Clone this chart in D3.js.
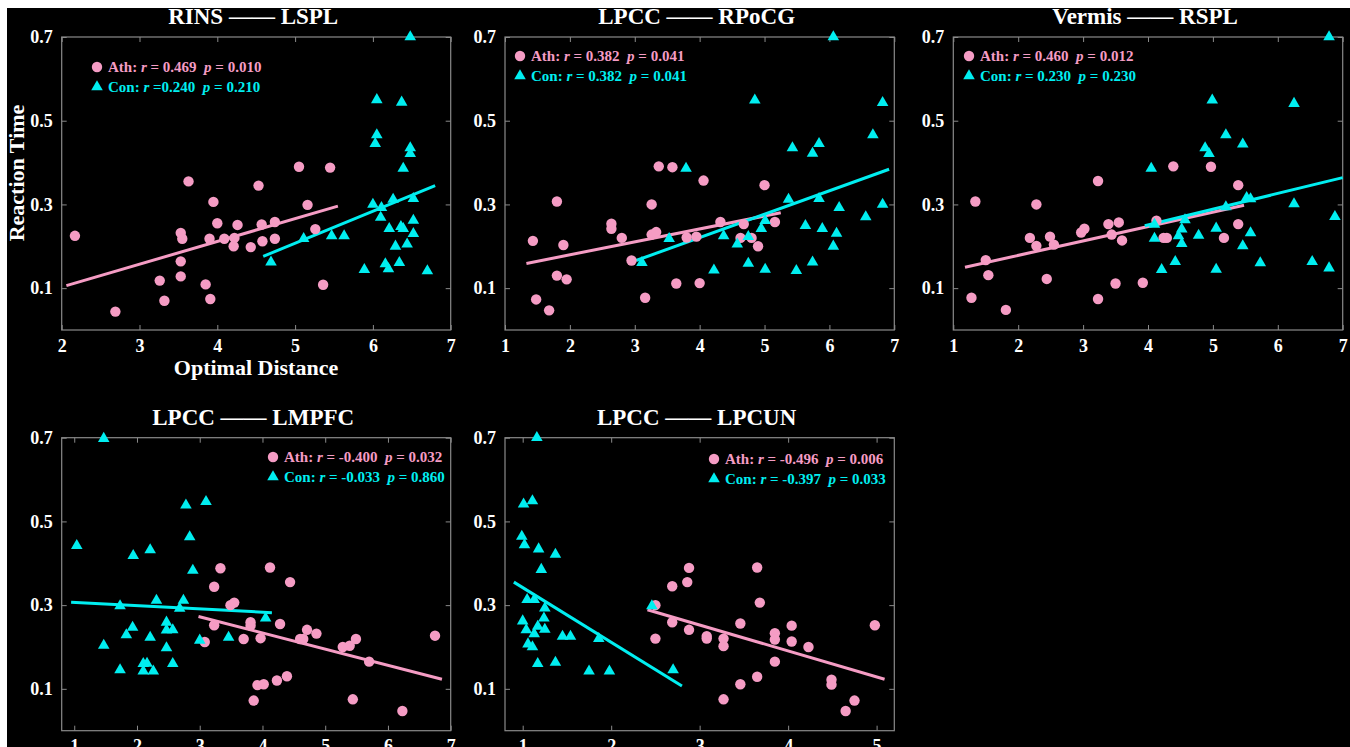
<!DOCTYPE html>
<html>
<head>
<meta charset="utf-8">
<script src="https://cdn.jsdelivr.net/npm/d3@7"></script>
<style>
  body { margin: 0; background: #fff; }
  svg { display: block; }
  text { font-family: "Liberation Serif", "Times New Roman", serif; font-weight: bold; }
</style>
</head>
<body>
<div id="chart"></div>
<script>
// panel titles and legend labels
var titles = ["RINS \u2014\u2014 LSPL", "LPCC \u2014\u2014 RPoCG", "Vermis \u2014\u2014 RSPL",
              "LPCC \u2014\u2014 LMPFC", "LPCC \u2014\u2014 LPCUN"];
var athStats = [["0.469", "0.010"], ["0.382", "0.041"], ["0.460", "0.012"], ["-0.400", "0.032"], ["-0.496", "0.006"]];
var conStats = [["0.240", "0.210"], ["0.382", "0.041"], ["0.230", "0.230"], ["-0.033", "0.860"], ["-0.397", "0.033"]];
var xDomains = [[2, 7], [1, 7], [1, 7], [0.8, 7], [0.8, 5.2]];
var yDomain = [0, 0.7];
var yTicks = [0.1, 0.3, 0.5, 0.7];

// points [optimal distance, reaction time]
var rinsAth = [[2.17,0.225],[2.69,0.044],[3.26,0.118],[3.32,0.070],[3.53,0.232],[3.55,0.218],[3.53,0.164],[3.53,0.128],
  [3.63,0.355],[3.85,0.109],[3.90,0.218],[3.91,0.074],[3.95,0.306],[4.00,0.255],[4.09,0.218],[4.22,0.220],[4.21,0.200],
  [4.26,0.251],[4.43,0.198],[4.53,0.345],[4.57,0.252],[4.58,0.212],[4.74,0.258],[4.74,0.218],[5.05,0.390],[5.16,0.299],
  [5.26,0.241],[5.36,0.108],[5.45,0.388]];
var rinsCon = [[6.48,0.700],[6.05,0.550],[6.37,0.544],[6.05,0.466],[6.03,0.445],[6.48,0.435],[6.48,0.421],[6.39,0.386],
  [6.00,0.300],[6.11,0.292],[6.26,0.312],[6.52,0.314],[6.10,0.269],[6.52,0.262],[6.21,0.242],[6.36,0.247],[6.39,0.242],
  [6.52,0.230],[6.29,0.200],[6.44,0.205],[5.47,0.225],[5.63,0.225],[5.11,0.218],[4.69,0.162],[5.89,0.144],[6.16,0.158],
  [6.20,0.146],[6.34,0.161],[6.70,0.141]];
var rpocgAth = [[1.43,0.213],[1.48,0.073],[1.68,0.047],[1.80,0.307],[1.90,0.203],[1.80,0.130],[1.95,0.121],[2.64,0.254],
  [2.64,0.242],[2.80,0.220],[2.95,0.166],[3.16,0.077],[3.26,0.300],[3.26,0.228],[3.33,0.234],[3.37,0.391],[3.58,0.389],
  [3.64,0.111],[3.80,0.221],[3.95,0.223],[4.00,0.112],[4.06,0.357],[4.32,0.258],[4.68,0.253],[4.63,0.220],[4.80,0.220],
  [4.90,0.200],[5.00,0.346],[5.16,0.258]];
var rpocgCon = [[6.06,0.700],[4.85,0.549],[6.82,0.543],[6.67,0.466],[5.43,0.435],[5.84,0.445],[5.74,0.422],[3.79,0.386],
  [5.37,0.312],[5.84,0.314],[6.15,0.292],[6.82,0.300],[6.56,0.270],[5.01,0.261],[5.63,0.249],[5.89,0.242],[4.95,0.242],
  [6.11,0.231],[3.53,0.218],[4.37,0.225],[4.75,0.223],[4.58,0.205],[6.06,0.200],[3.11,0.161],[4.22,0.143],[4.75,0.159],
  [5.01,0.145],[5.49,0.142],[5.74,0.162]];
var rsplAth = [[1.28,0.077],[1.34,0.307],[1.50,0.167],[1.54,0.131],[1.81,0.048],[2.18,0.220],[2.28,0.300],[2.28,0.201],
  [2.44,0.122],[2.49,0.223],[2.55,0.204],[2.97,0.233],[3.02,0.242],[3.23,0.356],[3.23,0.074],[3.39,0.253],[3.44,0.228],
  [3.50,0.111],[3.55,0.257],[3.60,0.214],[3.92,0.113],[4.13,0.261],[4.24,0.220],[4.29,0.220],[4.39,0.391],[4.97,0.390],
  [5.17,0.220],[5.39,0.346],[5.39,0.253]];
var rsplCon = [[6.79,0.700],[4.99,0.549],[6.25,0.541],[5.20,0.466],[5.46,0.444],[4.88,0.435],[4.94,0.421],[4.05,0.386],
  [5.52,0.316],[5.58,0.313],[6.25,0.301],[5.20,0.294],[6.88,0.271],[4.57,0.263],[4.10,0.252],[4.52,0.241],[5.05,0.243],
  [4.10,0.219],[4.47,0.225],[4.78,0.226],[5.58,0.232],[4.52,0.206],[5.46,0.201],[4.42,0.163],[5.73,0.160],[6.53,0.163],
  [4.21,0.144],[5.05,0.145],[6.79,0.148]];
var lmpfcAth = [[3.08,0.212],[3.23,0.252],[3.23,0.344],[3.33,0.388],[3.49,0.300],[3.55,0.306],[3.70,0.219],[3.81,0.259],
  [3.81,0.251],[3.97,0.221],[3.86,0.072],[3.92,0.109],[4.02,0.111],[4.12,0.390],[4.23,0.120],[4.28,0.255],[4.39,0.130],
  [4.44,0.355],[4.60,0.219],[4.65,0.219],[4.71,0.241],[4.86,0.232],[5.28,0.200],[5.39,0.203],[5.49,0.219],[5.44,0.075],
  [5.70,0.165],[6.23,0.047],[6.75,0.227]];
var lmpfcCon = [[1.47,0.698],[1.04,0.442],[3.10,0.547],[2.78,0.539],[2.84,0.463],[2.21,0.432],[1.94,0.418],[2.89,0.383],
  [2.31,0.311],[2.74,0.311],[1.73,0.298],[2.68,0.292],[4.05,0.269],[2.47,0.259],[1.93,0.247],[2.47,0.240],[2.57,0.241],
  [1.83,0.229],[2.21,0.223],[3.46,0.223],[3.00,0.216],[1.47,0.204],[2.47,0.198],[2.57,0.160],[2.10,0.160],[2.16,0.161],
  [1.73,0.145],[2.10,0.142],[2.26,0.142]];
var lpcunAth = [[2.50,0.300],[2.50,0.220],[2.69,0.345],[2.69,0.259],[2.86,0.355],[2.88,0.389],[2.88,0.241],[3.08,0.226],
  [3.08,0.220],[3.27,0.220],[3.27,0.202],[3.27,0.075],[3.46,0.256],[3.46,0.111],[3.65,0.390],[3.68,0.306],[3.65,0.129],
  [3.85,0.233],[3.85,0.218],[3.85,0.165],[4.04,0.251],[4.04,0.213],[4.23,0.200],[4.49,0.122],[4.49,0.110],[4.65,0.047],
  [4.75,0.072],[4.98,0.252]];
var lpcunCon = [[1.16,0.700],[1.01,0.541],[1.11,0.549],[0.99,0.464],[1.02,0.444],[1.18,0.434],[1.37,0.421],[1.21,0.385],
  [1.05,0.313],[1.13,0.313],[1.25,0.293],[2.46,0.298],[1.00,0.262],[1.24,0.269],[1.04,0.241],[1.17,0.249],[1.25,0.242],
  [1.13,0.231],[1.45,0.225],[1.54,0.225],[1.86,0.220],[1.06,0.207],[1.11,0.200],[1.17,0.160],[1.37,0.163],[1.75,0.142],
  [1.98,0.142],[2.70,0.145]];

// fitted lines [x0, y0, x1, y1]
var athFits = [[2.06,0.106,5.55,0.296],[1.33,0.159,5.25,0.280],[1.18,0.150,5.48,0.298],[2.98,0.273,6.86,0.123],[2.41,0.289,5.09,0.123]];
var conFits = [[4.59,0.176,6.80,0.345],[3.02,0.166,6.92,0.384],[3.95,0.249,7.00,0.364],[0.95,0.307,4.15,0.282],[0.90,0.355,2.80,0.107]];

var athPoints = [rinsAth, rpocgAth, rsplAth, lmpfcAth, lpcunAth];
var conPoints = [rinsCon, rpocgCon, rsplCon, lmpfcCon, lpcunCon];

var pink = "#f59cc4", cyan = "#00eef0", axisColor = "#8a8a8a";

var width = 1350, height = 747;
var svg = d3.select("#chart").append("svg")
  .attr("width", width)
  .attr("height", height);

svg.append("rect")
  .attr("x", 7).attr("y", 8)
  .attr("width", width - 7).attr("height", height - 8)
  .attr("fill", "#000");

// panel boxes in pixels, with legend anchor
var boxes = [
  {l: 61.7, r: 450.7, t: 37, b: 330, lx: 97, ly: 67},
  {l: 505, r: 894.3, t: 37, b: 330, lx: 520, ly: 56},
  {l: 953.3, r: 1342.7, t: 37, b: 330, lx: 969, ly: 56},
  {l: 61.7, r: 450.7, t: 437.7, b: 730.7, lx: 273, ly: 457},
  {l: 505, r: 894.3, t: 437.7, b: 730.7, lx: 714, ly: 459}
];

boxes.forEach(function(box, i) {
  var x = d3.scaleLinear().domain(xDomains[i]).range([box.l, box.r]);
  var y = d3.scaleLinear().domain(yDomain).range([box.b, box.t]);
  var g = svg.append("g");

  var xTicks = d3.range(Math.ceil(xDomains[i][0]), Math.floor(xDomains[i][1]) + 1);

  // axes, ticks pointing in; labels only on bottom and left
  var axes = [
    [d3.axisBottom(x).tickValues(xTicks).tickFormat(d3.format("d")), `translate(0,${box.b})`, true],
    [d3.axisTop(x).tickValues(xTicks).tickFormat(""), `translate(0,${box.t})`, false],
    [d3.axisLeft(y).tickValues(yTicks).tickFormat(d3.format(".1f")), `translate(${box.l},0)`, true],
    [d3.axisRight(y).tickValues(yTicks).tickFormat(""), `translate(${box.r},0)`, false]
  ];
  axes.forEach(function(a) {
    var ax = g.append("g")
      .attr("transform", a[1])
      .call(a[0].tickSizeInner(-5).tickSizeOuter(0).tickPadding(9));
    ax.select(".domain").remove();
    ax.selectAll(".tick line").attr("stroke", axisColor);
    if (a[2]) {
      ax.selectAll(".tick text")
        .attr("fill", "#fff")
        .attr("font-size", 18)
        .attr("font-family", "Liberation Serif, serif")
        .attr("font-weight", "bold");
    } else {
      ax.selectAll(".tick text").remove();
    }
  });

  g.append("rect")
    .attr("x", box.l).attr("y", box.t)
    .attr("width", box.r - box.l).attr("height", box.b - box.t)
    .attr("fill", "none")
    .attr("stroke", axisColor)
    .attr("stroke-width", 1.2);

  g.append("text")
    .attr("x", (box.l + box.r) / 2 - 3)
    .attr("y", box.t - 13)
    .attr("text-anchor", "middle")
    .attr("fill", "#fff")
    .attr("font-size", 23)
    .text(titles[i]);

  // fitted lines
  [[athFits[i], pink], [conFits[i], cyan]].forEach(function(f) {
    g.append("line")
      .attr("x1", x(f[0][0])).attr("y1", y(f[0][1]))
      .attr("x2", x(f[0][2])).attr("y2", y(f[0][3]))
      .attr("stroke", f[1])
      .attr("stroke-width", 3);
  });

  g.selectAll("circle.ath")
    .data(athPoints[i])
    .enter()
    .append("circle")
    .attr("class", "ath")
    .attr("cx", d => x(d[0]))
    .attr("cy", d => y(d[1]))
    .attr("r", 5.2)
    .attr("fill", pink);

  var tri = d3.symbol().type(d3.symbolTriangle).size(58);
  g.selectAll("path.con")
    .data(conPoints[i])
    .enter()
    .append("path")
    .attr("class", "con")
    .attr("d", tri)
    .attr("transform", d => `translate(${x(d[0])},${y(d[1])})`)
    .attr("fill", cyan);

  // legend
  var rows = [
    ["Ath: ", athStats[i], pink, "circle"],
    ["Con: ", conStats[i], cyan, "tri"]
  ];
  rows.forEach(function(row, k) {
    var cy = box.ly + k * 20;
    if (row[3] == "circle") {
      g.append("circle").attr("cx", box.lx).attr("cy", cy).attr("r", 5.2).attr("fill", row[2]);
    } else {
      g.append("path").attr("d", tri).attr("transform", `translate(${box.lx},${cy})`).attr("fill", row[2]);
    }
    var t = g.append("text")
      .attr("x", box.lx + 11)
      .attr("y", cy + 5)
      .attr("fill", row[2])
      .attr("font-size", 15)
      .style("white-space", "pre");
    var eq = (i == 0 && k == 1) ? " =" : " = ";
    t.append("tspan").text(row[0]);
    t.append("tspan").attr("font-style", "italic").text("r");
    t.append("tspan").text(eq + row[1][0] + "  ");
    t.append("tspan").attr("font-style", "italic").text("p");
    t.append("tspan").text(" = " + row[1][1]);
  });
});

// axis labels on the first panel only
svg.append("text")
  .attr("x", 256)
  .attr("y", 375)
  .attr("text-anchor", "middle")
  .attr("fill", "#fff")
  .attr("font-size", 22)
  .text("Optimal Distance");

svg.append("text")
  .attr("transform", "translate(24,173) rotate(-90)")
  .attr("text-anchor", "middle")
  .attr("fill", "#fff")
  .attr("font-size", 22)
  .text("Reaction Time");
</script>
</body>
</html>
